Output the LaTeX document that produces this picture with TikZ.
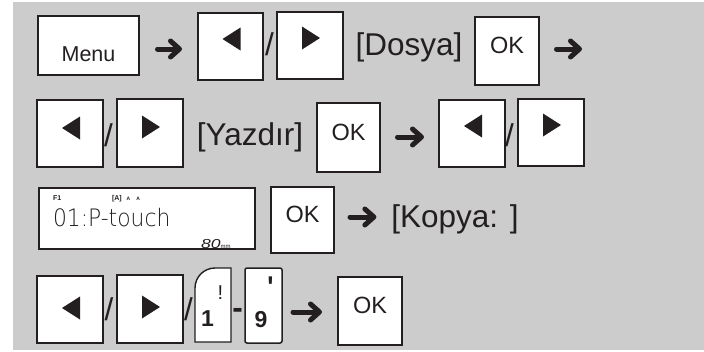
\documentclass[tikz,border=0pt]{standalone}
\usepackage{fontspec}
\setmainfont{Liberation Sans}
\usetikzlibrary{arrows.meta,calc}
\definecolor{ink}{HTML}{231F20}
\definecolor{bg}{HTML}{CCCCCC}
\newcommand\myfs[1]{\fontsize{#1}{#1}\selectfont}
\IfFontExistsTF{DejaVu Sans ExtraLight}{\newfontfamily\lcdfont{DejaVu Sans ExtraLight}}{\newfontfamily\lcdfont{DejaVu Sans Mono}}
\newcommand\tril[2]{\fill[ink] ([shift={(-8,#2)}]#1.north) -- ([shift={(10,#2-11.5)}]#1.north) -- ([shift={(10,#2+11.5)}]#1.north) -- cycle;}
\newcommand\trir[2]{\fill[ink] ([shift={(10,#2)}]#1.north) -- ([shift={(-8,#2-11.5)}]#1.north) -- ([shift={(-8,#2+11.5)}]#1.north) -- cycle;}
\begin{document}
\begin{tikzpicture}[x=1pt,y=-1pt,
 keybox/.style={draw=ink, line width=1.5pt, fill=white, rectangle, inner sep=0pt, outer sep=0pt},
 lbl/.style={anchor=base, inner sep=0pt, outer sep=0pt, text=ink},
 big/.style={lbl, font=\myfs{31.5}},
 oktext/.style={lbl, font=\myfs{23.5}},
 bigarrow/.style={draw=ink, line width=5pt, line cap=round, -{Straight Barb[length=9pt,width=16pt,round]}},
]
\useasboundingbox (0,0) rectangle (704,351);
\fill[bg] (13,2) rectangle (704,350);

% ---- row 1
\node[keybox, minimum width=101pt, minimum height=59pt] (menu) at (88.5,45.5) {};
\node[lbl, font=\myfs{21.5}] (menut) at (88.5,61) {Menu};
\node[keybox, minimum width=65pt, minimum height=67pt] (l1) at (230.5,46.5) {};
\node[big] (sl1) at (269.5,55) {/};
\node[keybox, minimum width=66pt, minimum height=67pt] (r1) at (310,45.5) {};
\node[big] (dosya) at (409,55) {[Dosya]};
\node[keybox, minimum width=64pt, minimum height=68pt] (ok1) at (507,51) {};
\node[oktext] (ok1t) at (507,53) {OK};
\coordinate (e1) at (582,49);
\tril{l1}{26}
\trir{r1}{26}
\draw[bigarrow] ([shift={(18.5,3.5)}]menu.east) -- ([shift={(-16,2.5)}]l1.west);
\draw[bigarrow] ([shift={(17.5,-2)}]ok1.east) -- (e1);

% ---- row 2
\node[keybox, minimum width=66pt, minimum height=67pt] (l2) at (70,133.5) {};
\node[big] (sl2) at (108.5,146) {/};
\node[keybox, minimum width=66pt, minimum height=68pt] (r2) at (150,133) {};
\node[big] (yazdir) at (250,145) {[Yazdır]};
\node[keybox, minimum width=63pt, minimum height=69pt] (ok2) at (348.5,137.5) {};
\node[oktext] (ok2t) at (348.5,140) {OK};
\node[keybox, minimum width=66pt, minimum height=67pt] (l3) at (472,133.5) {};
\node[big] (sl3) at (509.5,146) {/};
\node[keybox, minimum width=66pt, minimum height=67pt] (r3) at (551,132.5) {};
\tril{l2}{28}
\trir{r2}{28}
\tril{l3}{26}
\trir{r3}{26}
\draw[bigarrow] ([shift={(17.5,-0.5)}]ok2.east) -- ([shift={(-15,3.5)}]l3.west);

% ---- row 3
\node[keybox, line width=1.6pt, minimum width=216pt, minimum height=61pt] (lcd) at (147,218.5) {};
\node[lbl, anchor=base west, font=\bfseries\myfs{7}] (f1) at (53,200) {F1};
\node[lbl, anchor=base west, font=\bfseries\myfs{7}] (ind) at (112,200) {[A]\hspace{5pt}{\myfs{5}A}\hspace{6pt}{\myfs{5}A}};
\node[lbl, anchor=base west, font=\lcdfont\myfs{24}] (lcdt) at (53,226) {\scalebox{0.91}[1]{01:P-touch}};
\node[lbl, anchor=base west, font=\itshape\myfs{13}] (len) at (201,248) {\scalebox{1.35}[1]{80}{\upshape\myfs{6}mm}};
\node[keybox, minimum width=63pt, minimum height=66pt] (ok3) at (302.5,220) {};
\node[oktext] (ok3t) at (302.5,222) {OK};
\node[big] (kopya) at (455,227) {[Kopya: ]};
\draw[bigarrow] ([shift={(16,-3)}]ok3.east) -- ([shift={(-15,-10)}]kopya.base west);

% ---- row 4
\node[keybox, minimum width=66pt, minimum height=67pt] (l4) at (70,309.5) {};
\node[big] (sl4) at (109,320) {/};
\node[keybox, minimum width=66pt, minimum height=68pt] (r4) at (150,309) {};
\node[big] (sl5) at (188.5,320) {/};
\tril{l4}{32}
\trir{r4}{32}
\draw[draw=ink, line width=1.4pt, fill=white] (195,342) [rounded corners=20pt] -- (195,268) [rounded corners=0pt] -- (231,268) -- (231,342) -- cycle;
\node[lbl, font=\bfseries\myfs{23}] (one) at (207.5,326.5) {1};
\node[lbl, font=\myfs{20}] (excl) at (220.5,299) {!};
\node[lbl, font=\bfseries\myfs{31.5}] (dash) at (237.5,318.5) {-};
\node[keybox, rounded corners=2pt, minimum width=37pt, minimum height=75pt] (key9) at (263.5,305.5) {};
\node[lbl, font=\bfseries\myfs{23}] (nine) at (261,327) {9};
\node[lbl, font=\bfseries\myfs{20}] (apos) at (270.5,297) {\scalebox{1.3}[1.5]{\textquotesingle}};
\node[keybox, minimum width=64pt, minimum height=68pt] (ok4) at (370,311) {};
\node[oktext] (ok4t) at (370,313) {OK};
\draw[bigarrow] ([shift={(11,6.5)}]key9.east) -- ([shift={(-16,1)}]ok4.west);
\end{tikzpicture}
\end{document}
